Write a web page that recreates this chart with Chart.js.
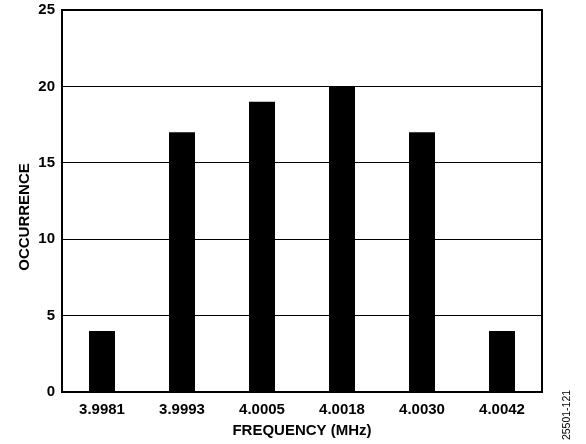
<!DOCTYPE html>
<html>
<head>
<meta charset="utf-8">
<script src="https://cdn.jsdelivr.net/npm/chart.js@4/dist/chart.umd.min.js"></script>
<style>
    html, body { margin: 0; padding: 0; background: #fff; }
    #wrap { width: 586px; height: 444px; position: relative; }
</style>
</head>
<body>
<div id="wrap"><canvas id="freqChart" width="586" height="444"></canvas></div>
<script>
const frequencies = ["3.9981", "3.9993", "4.0005", "4.0018", "4.0030", "4.0042"];
const occurrence = [4, 17, 19, 20, 17, 4];
const yTicks = [0, 5, 10, 15, 20, 25];

const labelFont = "'Liberation Sans', Arial, Helvetica, sans-serif";

// titles and figure number drawn by hand so they sit where the original has them
const extraText = {
    id: "extraText",
    afterDraw(chart) {
        const ctx = chart.ctx;
        const area = chart.chartArea;
        ctx.save();
        ctx.fillStyle = "#000";
        ctx.textAlign = "center";
        ctx.textBaseline = "middle";

        ctx.font = "bold 15px " + labelFont;
        ctx.fillText("FREQUENCY (MHz)", (area.left + area.right) / 2, 431);

        ctx.save();
        ctx.translate(25, 217);
        ctx.rotate(-Math.PI / 2);
        ctx.fillText("OCCURRENCE", 0, 0);
        ctx.restore();

        ctx.save();
        ctx.translate(567, 415);
        ctx.rotate(-Math.PI / 2);
        ctx.font = "10.5px " + labelFont;
        ctx.fillText("25501-121", 0, 0);
        ctx.restore();

        // plot frame
        ctx.strokeStyle = "#000";
        ctx.lineWidth = 2;
        ctx.strokeRect(area.left, area.top, area.right - area.left, area.bottom - area.top);
        ctx.restore();
    }
};

new Chart(document.getElementById("freqChart"), {
    type: "bar",
    data: {
        labels: frequencies,
        datasets: [{
            data: occurrence,
            backgroundColor: "#000",
            borderWidth: 0,
            barPercentage: 0.325,
            categoryPercentage: 1
        }]
    },
    options: {
        responsive: false,
        animation: false,
        layout: {
            padding: { top: 10, right: 44, left: 0, bottom: 0 }
        },
        plugins: {
            legend: { display: false },
            tooltip: { enabled: false }
        },
        scales: {
            x: {
                grid: { display: false, drawTicks: false },
                border: { display: false },
                ticks: {
                    color: "#000",
                    font: { family: labelFont, size: 15, weight: "bold" },
                    padding: 9,
                    maxRotation: 0
                },
                afterFit(scale) {
                    scale.height = 52;
                    scale.paddingLeft = 0;
                    scale.paddingRight = 0;
                }
            },
            y: {
                min: 0,
                max: 25,
                afterBuildTicks(scale) {
                    scale.ticks = yTicks.map(v => ({ value: v }));
                },
                grid: {
                    color: "#000",
                    lineWidth: 1,
                    drawTicks: false
                },
                border: { display: false },
                ticks: {
                    color: "#000",
                    font: { family: labelFont, size: 15, weight: "bold" },
                    padding: 7
                },
                afterFit(scale) {
                    scale.width = 62;
                    scale.paddingTop = 0;
                    scale.paddingBottom = 0;
                }
            }
        }
    },
    plugins: [extraText]
});
</script>
</body>
</html>
